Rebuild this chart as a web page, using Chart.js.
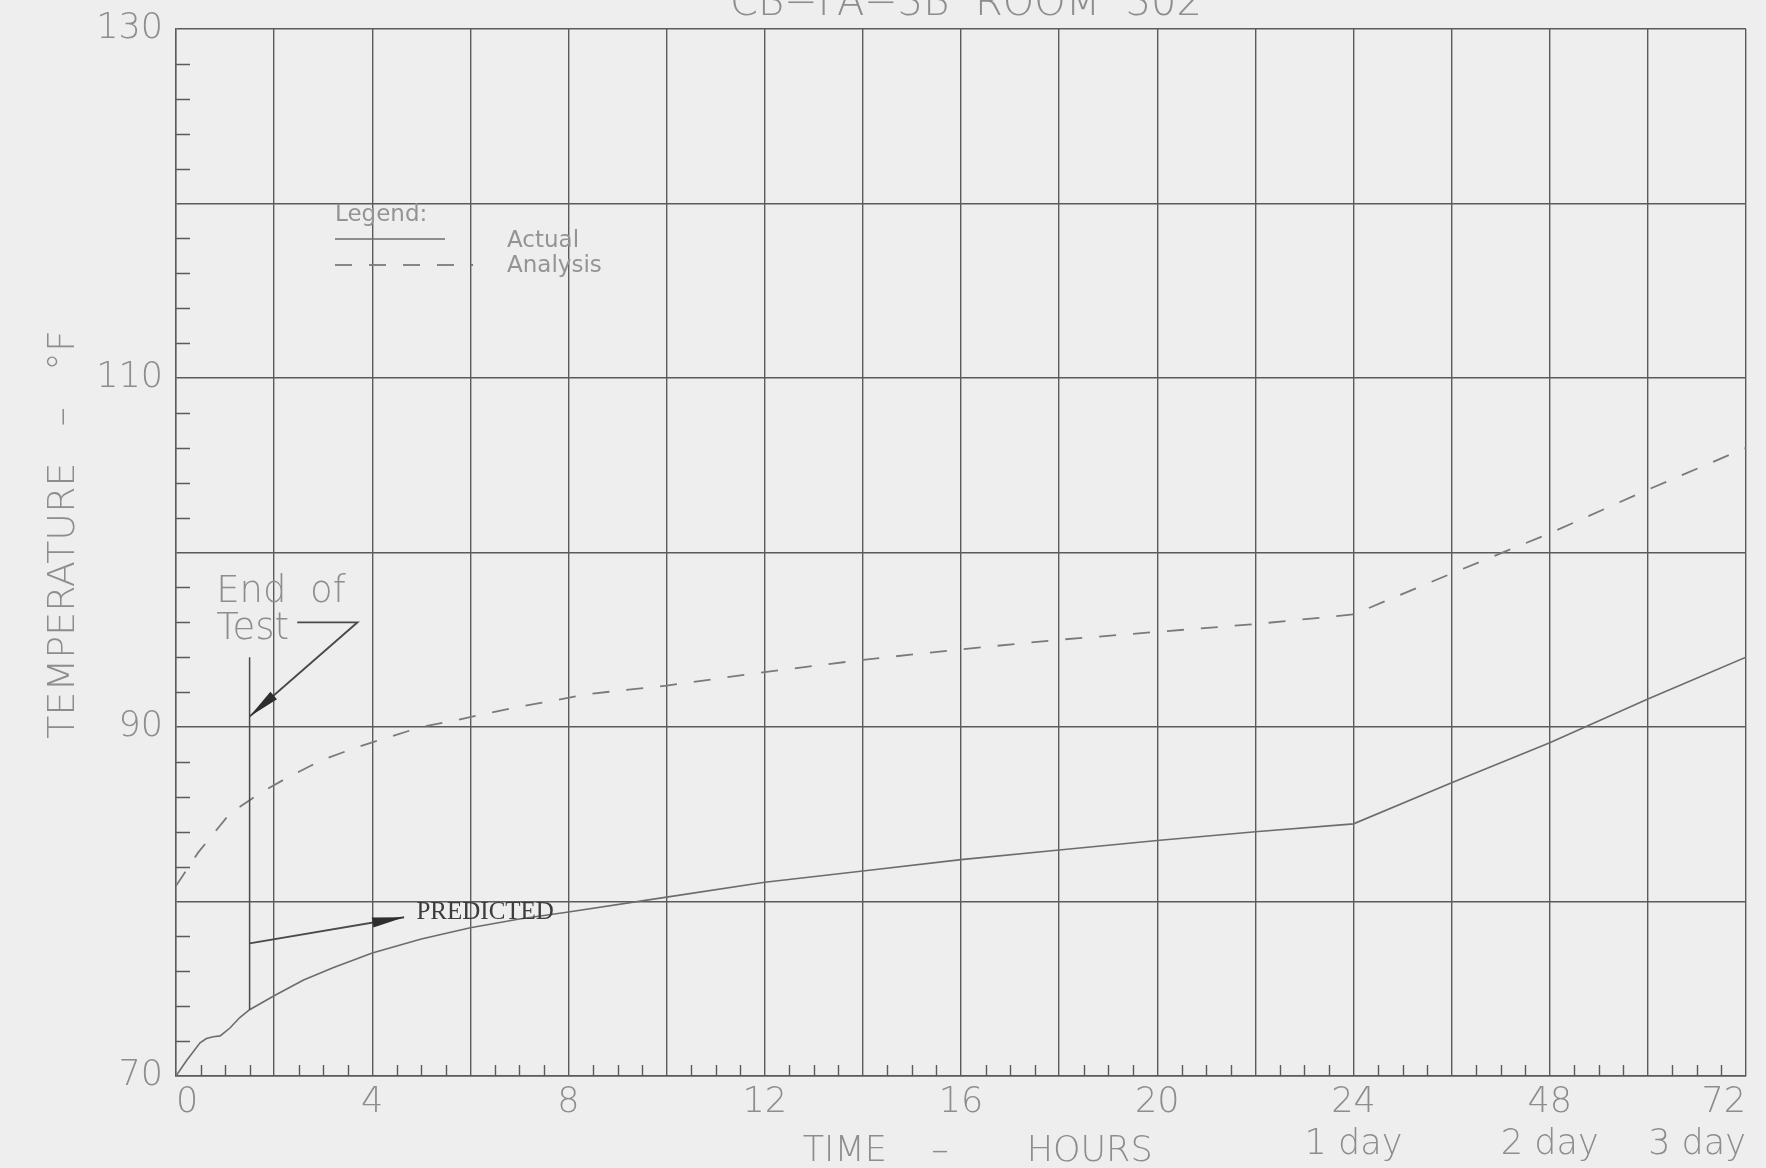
<!DOCTYPE html>
<html>
<head>
<meta charset="utf-8">
<script src="https://cdn.jsdelivr.net/npm/chart.js@4.4.1/dist/chart.umd.min.js"></script>
<style>
  html, body { margin: 0; padding: 0; background: #eeeeee; }
  #wrap { width: 1766px; height: 1168px; position: relative; }
</style>
</head>
<body>
<div id="wrap"><canvas id="chart"></canvas></div>
<script>
// ---- Time axis: 2-hour divisions through the first day, 12-hour divisions after ----
const gridHours   = [0, 2, 4, 6, 8, 10, 12, 14, 16, 18, 20, 22, 24, 36, 48, 60, 72];
const labelHours  = [0, 4, 8, 12, 16, 20, 24, 48, 72];
const hourLabels  = ['0', '4', '8', '12', '16', '20', '24', '48', '72'];
const dayLabels   = ['', '', '', '', '', '', '1 day', '2 day', '3 day'];

// ---- Temperature axis (°F) ----
const tempMin = 70;
const tempMax = 130;
const tempLabels = [70, 90, 110, 130];

// ---- Room 302 temperature, measured ----
const actualHours = [0, 0.22, 0.49, 0.62, 0.76, 0.9, 1.1, 1.3, 1.5, 2.0, 2.6, 3.2, 4.0, 5.0, 6.0, 7.0,
                     8.0, 10.0, 12.0, 14.0, 16.0, 18.0, 20.0, 22.0, 24.0, 36.0, 48.0, 60.0, 72.0];
const actualTemps = [70.0, 70.9, 71.9, 72.15, 72.25, 72.3, 72.75, 73.35, 73.8, 74.6, 75.5, 76.2, 77.05, 77.85, 78.5, 79.0,
                     79.4, 80.25, 81.1, 81.75, 82.4, 82.95, 83.5, 84.0, 84.45, 86.8, 89.1, 91.6, 94.0];

// ---- Room 302 temperature, analysis ----
const analysisHours = [0, 0.45, 1.1, 1.68, 2.27, 2.97, 3.65, 4.26, 5.0, 5.65, 6.37, 7.08, 7.76, 8.44, 9.1,
                       10.0, 12.0, 14.0, 16.0, 18.0, 20.0, 22.0, 24.0, 36.0, 48.0, 60.0, 72.0];
const analysisTemps = [80.9, 82.8, 85.05, 86.15, 87.1, 88.1, 88.8, 89.35, 90.0, 90.35, 90.8, 91.2, 91.55, 91.9, 92.1,
                       92.37, 93.15, 93.85, 94.45, 95.0, 95.45, 95.9, 96.45, 98.8, 101.1, 103.6, 106.0];

// ---- Annotation anchors (hours, °F) ----
const endOfTestHour = 1.5;
const endOfTestMarkerTop = 94.0;
const endOfTestLeader = [[2.47, 96.0], [3.7, 96.0], [1.5, 90.6]];
const endOfTestText = [['End  of', 0.82, 97.15], ['Test', 0.82, 95.05]];
const predictedLeader = [[1.5, 77.6], [4.65, 79.1]];
const predictedText = ['PREDICTED', 4.9, 79.0];

const chartTitle = 'CB\u2212FA\u22123B  ROOM  302';

const SANS = '"DejaVu Sans", "Liberation Sans", sans-serif';
const TEXT_GREY = '#8d8d8d';
const GRID = '#5b5b5b';

// Piecewise-linear hour axis: each grid division has equal width
function hoursToDivisions(h) {
  let i = 1;
  while (i < gridHours.length - 1 && h > gridHours[i]) i++;
  const a = gridHours[i - 1], b = gridHours[i];
  return (i - 1) + (h - a) / (b - a);
}
function divisionsToHours(d) {
  const n = gridHours.length - 1;
  const i = Math.max(0, Math.min(n - 1, Math.floor(d)));
  return gridHours[i] + (d - i) * (gridHours[i + 1] - gridHours[i]);
}

class DivisionTimeScale extends Chart.LinearScale {
  static id = 'divisionTime';
  static defaults = {};
  buildTicks() {
    this.start = this.min;
    this.end = this.max;
    return gridHours.map(v => ({ value: v }));
  }
  getPixelForValue(value) {
    if (value === null || value === undefined || isNaN(value)) return NaN;
    return this.getPixelForDecimal(hoursToDivisions(value) / (gridHours.length - 1));
  }
  getValueForPixel(pixel) {
    return divisionsToHours(this.getDecimalForPixel(pixel) * (gridHours.length - 1));
  }
}
Chart.register(DivisionTimeScale);

function arrowHead(ctx, fromX, fromY, tipX, tipY, len, half) {
  const dx = tipX - fromX, dy = tipY - fromY;
  const d = Math.hypot(dx, dy);
  const ux = dx / d, uy = dy / d;
  const bx = tipX - ux * len, by = tipY - uy * len;
  ctx.beginPath();
  ctx.moveTo(tipX, tipY);
  ctx.lineTo(bx - uy * half, by + ux * half);
  ctx.lineTo(bx + uy * half, by - ux * half);
  ctx.closePath();
  ctx.fill();
}

// Title, inner minor ticks, legend block and the "End of Test" / "PREDICTED" callouts
const decorations = {
  id: 'decorations',
  afterDatasetsDraw(chart) {
    const { ctx, chartArea: area, scales: { x, y } } = chart;
    const px = h => x.getPixelForValue(h);
    const py = t => y.getPixelForValue(t);
    ctx.save();

    // title, running off the top edge of the sheet
    ctx.fillStyle = TEXT_GREY;
    ctx.font = '200 40px ' + SANS;
    ctx.textAlign = 'center';
    ctx.textBaseline = 'alphabetic';
    ctx.fillText(chartTitle, (area.left + area.right) / 2 + 5, area.top - 14);

    // minor ticks
    ctx.strokeStyle = GRID;
    ctx.lineWidth = 1.4;
    ctx.beginPath();
    for (let t = tempMin + 2; t < tempMax; t += 2) {
      if (t % 10 === 0) continue;
      const yy = Math.round(py(t)) + 0.5;
      ctx.moveTo(area.left, yy);
      ctx.lineTo(area.left + 14, yy);
    }
    for (let i = 0; i < gridHours.length - 1; i++) {
      const a = gridHours[i], b = gridHours[i + 1];
      for (let k = 1; k < 4; k++) {
        const xx = Math.round(px(a + (b - a) * k / 4)) + 0.5;
        ctx.moveTo(xx, area.bottom);
        ctx.lineTo(xx, area.bottom - 11);
      }
    }
    ctx.stroke();

    // legend
    const ds = chart.data.datasets;
    const lx = area.left + 159, ly = area.top;
    ctx.fillStyle = '#949494';
    ctx.font = '23px ' + SANS;
    ctx.textAlign = 'left';
    ctx.fillText('Legend:', lx, ly + 192);
    const rows = [[ds[0], 110, 210, 218], [ds[1], 138, 236, 243]];
    rows.forEach(([d, w, lineY, textY]) => {
      ctx.strokeStyle = d.borderColor;
      ctx.lineWidth = d.borderWidth;
      ctx.setLineDash(d.borderDash || []);
      ctx.beginPath();
      ctx.moveTo(lx, ly + lineY);
      ctx.lineTo(lx + w, ly + lineY);
      ctx.stroke();
      ctx.setLineDash([]);
      ctx.fillText(d.label, lx + 172, ly + textY);
    });

    // End of Test marker
    ctx.strokeStyle = '#4a4a4a';
    ctx.fillStyle = '#2e2e2e';
    ctx.lineWidth = 1.5;
    const endTemp = actualTemps[actualHours.indexOf(endOfTestHour)];
    ctx.beginPath();
    ctx.moveTo(px(endOfTestHour), py(endOfTestMarkerTop));
    ctx.lineTo(px(endOfTestHour), py(endTemp));
    ctx.stroke();

    ctx.lineWidth = 1.8;
    ctx.beginPath();
    endOfTestLeader.forEach(([h, t], i) => i ? ctx.lineTo(px(h), py(t)) : ctx.moveTo(px(h), py(t)));
    ctx.stroke();
    const [e1, e2] = endOfTestLeader.slice(-2);
    arrowHead(ctx, px(e1[0]), py(e1[1]), px(e2[0]), py(e2[1]), 32, 5);

    ctx.lineWidth = 2;
    ctx.beginPath();
    ctx.moveTo(px(predictedLeader[0][0]), py(predictedLeader[0][1]));
    ctx.lineTo(px(predictedLeader[1][0]), py(predictedLeader[1][1]));
    ctx.stroke();
    arrowHead(ctx, px(predictedLeader[0][0]), py(predictedLeader[0][1]),
              px(predictedLeader[1][0]), py(predictedLeader[1][1]), 32, 5);

    ctx.fillStyle = TEXT_GREY;
    ctx.font = '200 37px ' + SANS;
    endOfTestText.forEach(([s, h, t]) => ctx.fillText(s, px(h), py(t)));

    ctx.fillStyle = '#3c3c3c';
    ctx.font = '25px "Liberation Serif", "DejaVu Serif", serif';
    ctx.fillText(predictedText[0], px(predictedText[1]), py(predictedText[2]));

    ctx.restore();
  }
};

new Chart(document.getElementById('chart'), {
  type: 'line',
  data: {
    datasets: [
      {
        label: 'Actual',
        data: actualHours.map((h, i) => ({ x: h, y: actualTemps[i] })),
        borderColor: '#6c6c6c',
        borderWidth: 1.6,
        pointRadius: 0,
        tension: 0,
        fill: false
      },
      {
        label: 'Analysis',
        data: analysisHours.map((h, i) => ({ x: h, y: analysisTemps[i] })),
        borderColor: '#7a7a7a',
        borderWidth: 1.8,
        borderDash: [17, 17],
        pointRadius: 0,
        tension: 0,
        fill: false
      }
    ]
  },
  options: {
    responsive: true,
    maintainAspectRatio: false,
    animation: false,
    events: [],
    layout: { padding: { left: 0, right: 20, top: 29, bottom: 0 } },
    plugins: {
      legend: { display: false },
      tooltip: { enabled: false },
      title: { display: false }
    },
    scales: {
      x: {
        type: 'divisionTime',
        min: 0,
        max: 72,
        grid: { color: GRID, lineWidth: 1.4, drawTicks: false },
        border: { color: GRID, width: 1.4 },
        ticks: {
          autoSkip: false,
          maxRotation: 0,
          align: 'inner',
          padding: 6,
          color: TEXT_GREY,
          font: { family: SANS, size: 35, weight: '200' },
          callback(value) {
            const i = labelHours.indexOf(value);
            if (i < 0) return '';
            return dayLabels[i] ? [hourLabels[i], dayLabels[i]] : hourLabels[i];
          }
        },
        title: {
          display: true,
          text: '   TIME    \u2013       HOURS',
          color: TEXT_GREY,
          font: { family: SANS, size: 35, weight: '200', lineHeight: 1 },
          padding: { top: 0, bottom: -1 }
        },
        afterFit(scale) { scale.height = 92; }
      },
      y: {
        type: 'linear',
        min: tempMin,
        max: tempMax,
        grid: { color: GRID, lineWidth: 1.4, drawTicks: true, tickLength: 7, tickColor: 'rgba(0,0,0,0)' },
        border: { color: GRID, width: 1.4 },
        ticks: {
          stepSize: 10,
          padding: 6,
          color: TEXT_GREY,
          font: { family: SANS, size: 35, weight: '200' },
          callback(value) { return tempLabels.includes(value) ? String(value) : ''; }
        },
        title: {
          display: true,
          text: '   TEMPERATURE   \u2013   \u00b0F',
          color: TEXT_GREY,
          font: { family: SANS, size: 38, weight: '200' },
          padding: { top: 41, bottom: 0 }
        },
        afterFit(scale) { scale.width = 176; }
      }
    }
  },
  plugins: [decorations]
});
</script>
</body>
</html>
